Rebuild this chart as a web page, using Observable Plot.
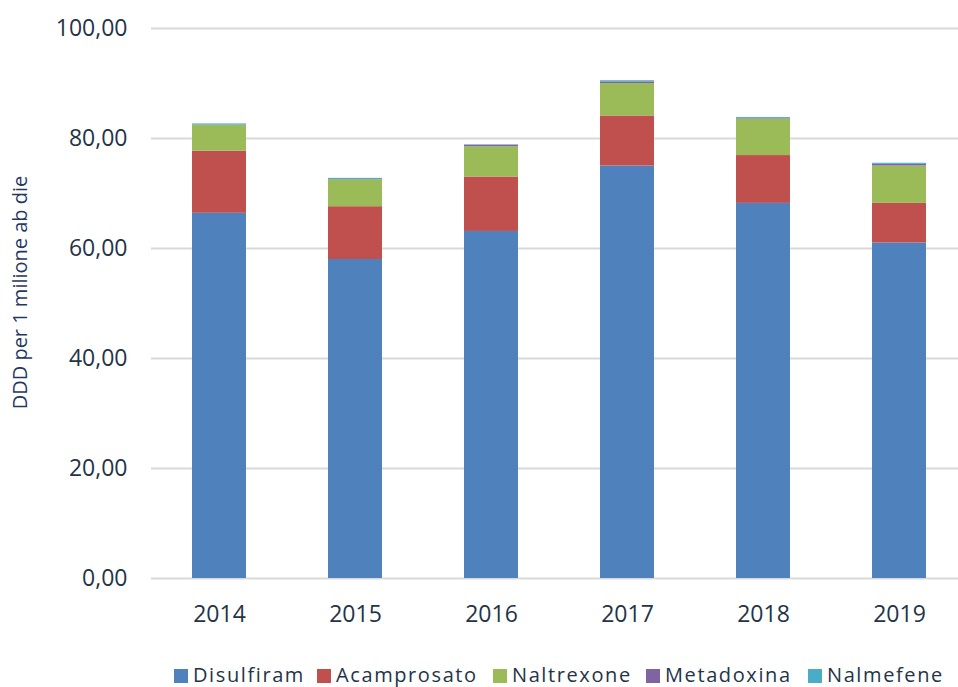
<!DOCTYPE html>
<html>
<head>
<meta charset="utf-8">
<script src="https://cdn.jsdelivr.net/npm/d3@7"></script>
<script src="https://cdn.jsdelivr.net/npm/@observablehq/plot@0.6"></script>
<style>
  html, body { margin: 0; padding: 0; background: #fff; }
  #chart { width: 958px; height: 687px; position: relative; overflow: hidden; }
  #legend { position: absolute; left: 0; top: 662px; width: 958px; font-family: "Open Sans", sans-serif; font-size: 20px; color: #243447; letter-spacing: 1.6px; }
  #legend .item { position: absolute; top: 0; white-space: nowrap; line-height: 26px; }
  #legend .sw { display: inline-block; width: 14px; height: 14px; margin-right: 5px; vertical-align: -1px; }
</style>
</head>
<body>
<div id="chart"></div>
<script>
const years = ["2014", "2015", "2016", "2017", "2018", "2019"];
const drugs = ["Disulfiram", "Acamprosato", "Naltrexone", "Metadoxina", "Nalmefene"];
const colors = ["#4f81bd", "#c0504d", "#9bbb59", "#8064a2", "#4bacc6"];
const disulfiram = [66.4, 58.0, 63.1, 75.0, 68.2, 61.0];
const acamprosato = [11.3, 9.6, 9.9, 9.1, 8.7, 7.2];
const naltrexone = [4.7, 4.9, 5.5, 5.9, 6.6, 6.8];
const metadoxina = [0.05, 0.05, 0.3, 0.3, 0.1, 0.3];
const nalmefene = [0.2, 0.2, 0.05, 0.2, 0.2, 0.2];
const yTicks = [0, 20, 40, 60, 80, 100];
const yLabel = "DDD per 1 milione ab die";

const series = [disulfiram, acamprosato, naltrexone, metadoxina, nalmefene];
const data = [];
drugs.forEach((d, i) => years.forEach((y, j) => data.push({year: y, drug: d, value: series[i][j]})));

const fmt = v => v.toFixed(2).replace(".", ",");

const plot = Plot.plot({
  width: 958,
  height: 645,
  marginTop: 28,
  marginBottom: 67,
  marginLeft: 151,
  marginRight: -10,
  style: {fontFamily: "Open Sans, sans-serif", fontSize: "23px", color: "#243447", background: "transparent", overflow: "visible"},
  x: {domain: years, paddingInner: 0.6, paddingOuter: 0.3, label: null},
  y: {domain: [0, 100], label: null},
  color: {domain: drugs, range: colors},
  marks: [
    Plot.ruleY(yTicks, {stroke: "#d9d9d9", strokeWidth: 2}),
    Plot.barY(data, {x: "year", y: "value", fill: "drug", order: drugs}),
    Plot.axisY({ticks: yTicks, tickFormat: fmt, tickSize: 0, tickPadding: 24, label: null, fontSize: 23}),
    Plot.axisX({tickSize: 0, tickPadding: 27, label: null, fontSize: 23}),
    Plot.text([yLabel], {frameAnchor: "left", dx: -131, dy: -11, rotate: -90, fill: "#1f3864", fontSize: 20, text: d => d, textAnchor: "middle", lineAnchor: "middle"})
  ]
});
document.getElementById("chart").appendChild(plot);

// legend
const legend = document.createElement("div");
legend.id = "legend";
const starts = [174, 317, 493, 646, 808];
drugs.forEach((d, i) => {
  const it = document.createElement("div");
  it.className = "item";
  it.style.left = starts[i] + "px";
  it.innerHTML = `<span class="sw" style="background:${colors[i]}"></span>${d}`;
  legend.appendChild(it);
});
document.getElementById("chart").appendChild(legend);
</script>
</body>
</html>
